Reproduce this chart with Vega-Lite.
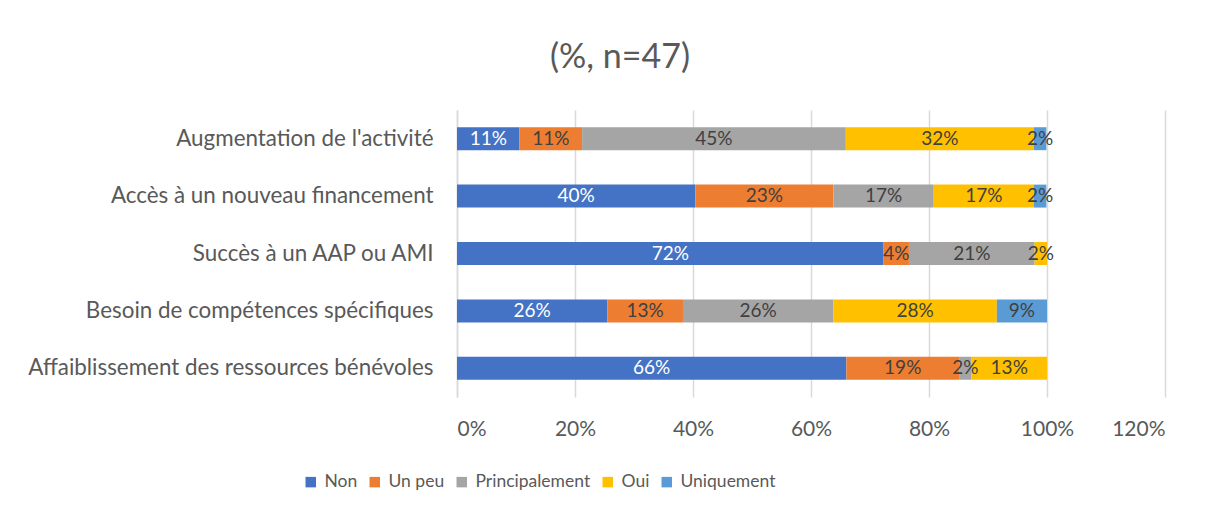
{
  "$schema": "https://vega.github.io/schema/vega-lite/v6.json",
  "autosize": {"type": "none"},
  "width": 708,
  "height": 287,
  "padding": {"left": 457, "top": 110, "right": 44, "bottom": 114},
  "background": "white",
  "title": {"text": "(%, n=47)", "fontSize": 34, "font": "Lato", "fontWeight": "normal", "color": "#595959", "anchor": "middle", "dx": -191, "offset": 35},
  "config": {"view": {"stroke": null}, "font": "Lato"},
  "data": {"values": [
    {"cat": "Augmentation de l'activité", "s": "Non", "o": 1, "v": 0.106},
    {"cat": "Augmentation de l'activité", "s": "Un peu", "o": 2, "v": 0.106},
    {"cat": "Augmentation de l'activité", "s": "Principalement", "o": 3, "v": 0.447},
    {"cat": "Augmentation de l'activité", "s": "Oui", "o": 4, "v": 0.319},
    {"cat": "Augmentation de l'activité", "s": "Uniquement", "o": 5, "v": 0.021},
    {"cat": "Accès à un nouveau financement", "s": "Non", "o": 1, "v": 0.404},
    {"cat": "Accès à un nouveau financement", "s": "Un peu", "o": 2, "v": 0.234},
    {"cat": "Accès à un nouveau financement", "s": "Principalement", "o": 3, "v": 0.170},
    {"cat": "Accès à un nouveau financement", "s": "Oui", "o": 4, "v": 0.170},
    {"cat": "Accès à un nouveau financement", "s": "Uniquement", "o": 5, "v": 0.021},
    {"cat": "Succès à un AAP ou AMI", "s": "Non", "o": 1, "v": 0.723},
    {"cat": "Succès à un AAP ou AMI", "s": "Un peu", "o": 2, "v": 0.043},
    {"cat": "Succès à un AAP ou AMI", "s": "Principalement", "o": 3, "v": 0.213},
    {"cat": "Succès à un AAP ou AMI", "s": "Oui", "o": 4, "v": 0.021},
    {"cat": "Besoin de compétences spécifiques", "s": "Non", "o": 1, "v": 0.255},
    {"cat": "Besoin de compétences spécifiques", "s": "Un peu", "o": 2, "v": 0.128},
    {"cat": "Besoin de compétences spécifiques", "s": "Principalement", "o": 3, "v": 0.255},
    {"cat": "Besoin de compétences spécifiques", "s": "Oui", "o": 4, "v": 0.277},
    {"cat": "Besoin de compétences spécifiques", "s": "Uniquement", "o": 5, "v": 0.085},
    {"cat": "Affaiblissement des ressources bénévoles", "s": "Non", "o": 1, "v": 0.660},
    {"cat": "Affaiblissement des ressources bénévoles", "s": "Un peu", "o": 2, "v": 0.191},
    {"cat": "Affaiblissement des ressources bénévoles", "s": "Principalement", "o": 3, "v": 0.021},
    {"cat": "Affaiblissement des ressources bénévoles", "s": "Oui", "o": 4, "v": 0.128}
  ]},
  "transform": [
    {"stack": "v", "groupby": ["cat"], "sort": [{"field": "o"}], "as": ["v0", "v1"]},
    {"calculate": "(datum.v0 + datum.v1) / 2", "as": "mid"}
  ],
  "encoding": {
    "y": {
      "field": "cat", "type": "nominal",
      "sort": ["Augmentation de l'activité", "Accès à un nouveau financement", "Succès à un AAP ou AMI", "Besoin de compétences spécifiques", "Affaiblissement des ressources bénévoles"],
      "scale": {"paddingInner": 0, "paddingOuter": 0},
      "axis": {"title": null, "ticks": false, "domain": true, "domainColor": "#D9D9D9", "domainWidth": 1.5, "labelFontSize": 22.4, "labelColor": "#595959", "labelPadding": 24, "labelLimit": 600, "labelFont": "Lato"}
    }
  },
  "layer": [
    {
      "mark": {"type": "bar", "height": {"band": 0.4}},
      "encoding": {
        "x": {"field": "v0", "type": "quantitative", "scale": {"domain": [0, 1.2]},
          "axis": {"title": null, "values": [0, 0.2, 0.4, 0.6, 0.8, 1.0, 1.2], "format": ".0%", "ticks": false, "domain": false, "grid": true, "gridColor": "#D9D9D9", "gridWidth": 1.5, "labelFontSize": 21, "labelColor": "#595959", "labelPadding": 21, "labelFont": "Lato"}},
        "x2": {"field": "v1"},
        "color": {"field": "s", "type": "nominal",
          "scale": {"domain": ["Non", "Un peu", "Principalement", "Oui", "Uniquement"], "range": ["#4472C4", "#ED7D31", "#A5A5A5", "#FFC000", "#5B9BD5"]},
          "legend": {"title": null, "orient": "none", "legendX": -155, "legendY": 363, "direction": "horizontal", "symbolType": "square", "symbolSize": 110, "symbolStrokeWidth": 0, "labelFontSize": 17.5, "labelColor": "#595959", "labelFont": "Lato", "columnPadding": 8, "labelOffset": 5}}
      }
    },
    {
      "mark": {"type": "text", "fontSize": 19, "font": "Lato"},
      "encoding": {
        "x": {"field": "mid", "type": "quantitative"},
        "text": {"field": "v", "type": "quantitative", "format": ".0%"},
        "color": {"condition": {"test": "datum.s === 'Non'", "value": "white"}, "value": "#404040"}
      }
    }
  ]
}
